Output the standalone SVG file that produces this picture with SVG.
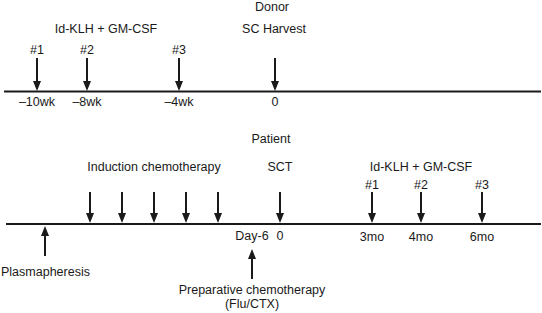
<svg xmlns="http://www.w3.org/2000/svg" width="542" height="313" viewBox="0 0 542 313">
<style>
text{font-family:"Liberation Sans",Arial,sans-serif;font-size:12.5px;fill:#1a1a1a;text-anchor:middle}
.l{text-anchor:start}
.axis{stroke:#1a1a1a;stroke-width:2;fill:none}
.arr{stroke:#1a1a1a;stroke-width:2;fill:none;marker-end:url(#ah)}
</style>
<defs>
<marker id="ah" markerUnits="userSpaceOnUse" markerWidth="10" markerHeight="8" refX="5" refY="4" orient="auto">
<path d="M0,0 L10,4 L0,8 z" fill="#1a1a1a"/>
</marker>
</defs>
<g id="connectors">
<line class="axis" x1="4" y1="91.5" x2="541" y2="91.5"/>
<line class="axis" x1="6" y1="224" x2="541" y2="224"/>
<line class="arr" x1="37" y1="58" x2="37" y2="86"/>
<line class="arr" x1="87" y1="58" x2="87" y2="86"/>
<line class="arr" x1="179" y1="58" x2="179" y2="86"/>
<line class="arr" x1="275" y1="58" x2="275" y2="86"/>
<line class="arr" x1="90" y1="192" x2="90" y2="218"/>
<line class="arr" x1="122" y1="192" x2="122" y2="218"/>
<line class="arr" x1="154" y1="192" x2="154" y2="218"/>
<line class="arr" x1="186" y1="192" x2="186" y2="218"/>
<line class="arr" x1="218" y1="192" x2="218" y2="218"/>
<line class="arr" x1="280" y1="192" x2="280" y2="218"/>
<line class="arr" x1="372" y1="192" x2="372" y2="218"/>
<line class="arr" x1="421" y1="192" x2="421" y2="218"/>
<line class="arr" x1="482" y1="192" x2="482" y2="218"/>
<line class="arr" x1="45" y1="256" x2="45" y2="231"/>
<line class="arr" x1="252" y1="279" x2="252" y2="254"/>
</g>
<g id="donor">
<text x="272" y="11">Donor</text>
<text x="274" y="33">SC Harvest</text>
<text x="275" y="106">0</text>
</g>
<g id="donor-vaccine">
<text x="106" y="33">Id-KLH + GM-CSF</text>
<text x="37" y="54">#1</text>
<text x="87" y="54">#2</text>
<text x="179" y="54">#3</text>
<text x="37" y="106">–10wk</text>
<text x="87" y="106">–8wk</text>
<text x="179" y="106">–4wk</text>
</g>
<g id="patient">
<text x="271" y="143">Patient</text>
<text x="280" y="171">SCT</text>
<text x="280" y="240">0</text>
</g>
<g id="induction">
<text x="154" y="171">Induction chemotherapy</text>
</g>
<g id="patient-vaccine">
<text x="421" y="171">Id-KLH + GM-CSF</text>
<text x="372" y="189">#1</text>
<text x="421" y="189">#2</text>
<text x="482" y="189">#3</text>
<text x="372" y="241">3mo</text>
<text x="421" y="241">4mo</text>
<text x="482" y="241">6mo</text>
</g>
<g id="plasmapheresis">
<text class="l" x="1" y="276">Plasmapheresis</text>
</g>
<g id="preparative">
<text x="252" y="240">Day-6</text>
<text x="252" y="294">Preparative chemotherapy</text>
<text x="252" y="308">(Flu/CTX)</text>
</g>
</svg>
